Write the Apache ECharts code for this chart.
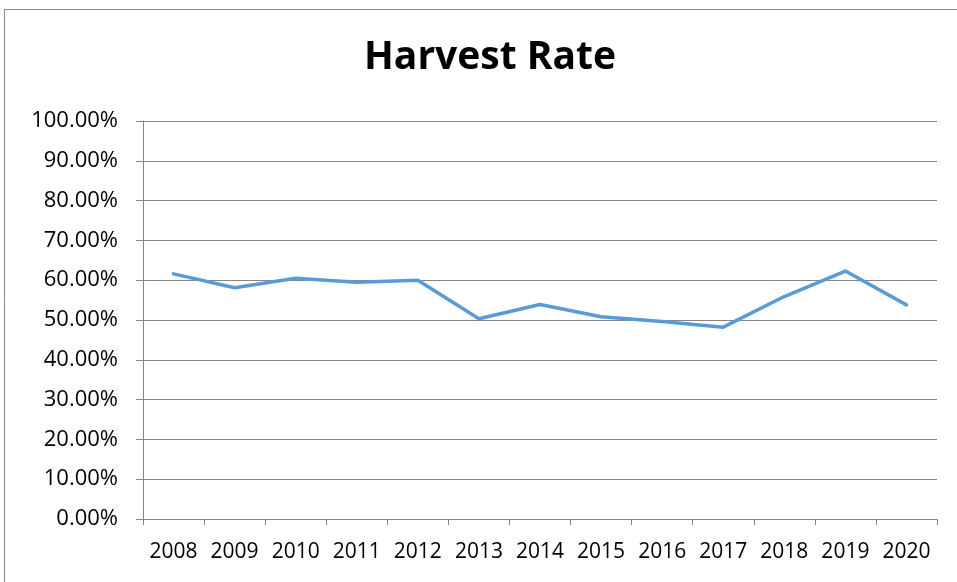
<!DOCTYPE html>
<html>
<head>
<meta charset="utf-8">
<script src="https://cdn.jsdelivr.net/npm/echarts@6/dist/echarts.min.js"></script>
<style>html,body{margin:0;padding:0;background:#fff}#c{width:957px;height:582px}</style>
</head>
<body>
<div id="c"></div>
<script>
var years = ['2008','2009','2010','2011','2012','2013','2014','2015','2016','2017','2018','2019','2020'];
var harvestRate = [61.6, 58.1, 60.5, 59.5, 60.0, 50.3, 53.9, 50.8, 49.6, 48.2, 55.9, 62.3, 53.8];
var yTicks = [0, 10, 20, 30, 40, 50, 60, 70, 80, 90, 100];

var chart = echarts.init(document.getElementById('c'));
chart.setOption({
  animation: false,
  backgroundColor: '#fff',
  graphic: [{
    type: 'rect', shape: {x: 4.5, y: 9.5, width: 1000, height: 700},
    style: {fill: 'none', stroke: '#868686', lineWidth: 1}, silent: true
  }],
  title: {
    text: 'Harvest Rate', left: 359, top: 33,
    textStyle: {fontFamily: 'Open Sans', fontWeight: 'bold', fontSize: 39, color: '#000'}
  },
  grid: {left: 143, right: 20, top: 121, bottom: 63, containLabel: false},
  xAxis: {
    type: 'category', data: years, boundaryGap: true,
    axisLine: {lineStyle: {color: '#868686', width: 1}},
    axisTick: {show: true, alignWithLabel: false, length: 6, lineStyle: {color: '#868686'}},
    axisLabel: {margin: 23, fontFamily: 'Open Sans', fontSize: 21, color: '#000', interval: 0},
    splitLine: {show: false}
  },
  yAxis: {
    type: 'value', min: yTicks[0], max: yTicks[yTicks.length - 1], interval: 10,
    axisLine: {show: true, lineStyle: {color: '#868686', width: 1}},
    axisTick: {show: true, length: 7, lineStyle: {color: '#868686'}},
    axisLabel: {margin: 25, fontFamily: 'Open Sans', fontSize: 22, color: '#000',
      formatter: function (v) { return v.toFixed(2) + '%'; }},
    splitLine: {show: true, lineStyle: {color: '#868686', width: 1}}
  },
  series: [{
    type: 'line', data: harvestRate, showSymbol: false, symbol: 'none',
    lineStyle: {color: '#5B9BD5', width: 3.5, cap: 'round', join: 'round'},
    itemStyle: {color: '#5B9BD5'}
  }]
});
</script>
</body>
</html>
